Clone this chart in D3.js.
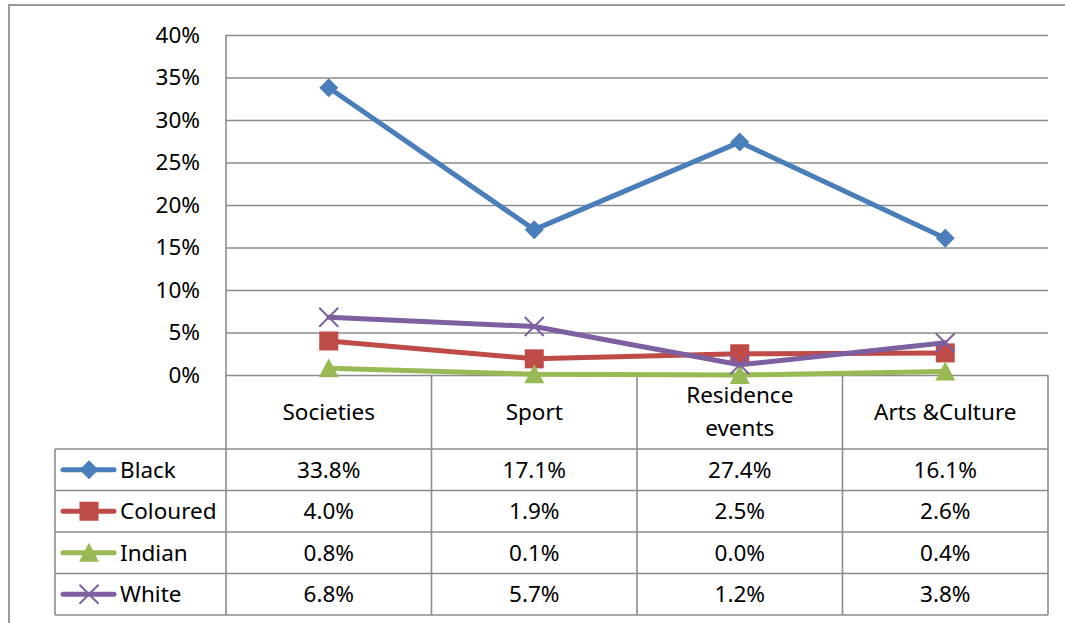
<!DOCTYPE html>
<html>
<head>
<meta charset="utf-8">
<script src="https://cdn.jsdelivr.net/npm/d3@7"></script>
<style>
  html, body { margin: 0; padding: 0; background: #fff; }
  svg { display: block; }
  text { font-family: "Noto Sans", "Open Sans", sans-serif; fill: #000; }
</style>
</head>
<body>
<svg id="chart" width="1065" height="623"></svg>
<script>
// ---- data ----
const categories = ["Societies", "Sport", "Residence events", "Arts &Culture"];
const seriesNames = ["Black", "Coloured", "Indian", "White"];
const black    = [0.338, 0.171, 0.274, 0.161];
const coloured = [0.040, 0.019, 0.025, 0.026];
const indian   = [0.008, 0.001, 0.000, 0.004];
const white    = [0.068, 0.057, 0.012, 0.038];
const yTicks = [0, 0.05, 0.10, 0.15, 0.20, 0.25, 0.30, 0.35, 0.40];

const seriesValues = [black, coloured, indian, white];
const colors = ["#4A7EBB", "#BE4B48", "#98B954", "#7D60A0"];
const markers = ["diamond", "square", "triangle", "cross"];

// ---- layout ----
const svg = d3.select("#chart");
const plotLeft = 226, plotRight = 1048, plotTop = 35, plotBottom = 375;
const headerBottom = 449, rowH = 41.5, legendLeft = 55;
const fontSize = 22.5;
const gridColor = "#8C8C8C";

const x = d3.scaleBand().domain(categories).range([plotLeft, plotRight]).padding(0);
const y = d3.scaleLinear().domain([0, 0.40]).range([plotBottom, plotTop]);

// outer frame
svg.append("rect").attr("x", 0).attr("y", 0).attr("width", 1065).attr("height", 623).attr("fill", "#fff");
svg.append("path")
  .attr("d", `M9,640 V5 H1080`)
  .attr("fill", "none").attr("stroke", "#9A9A9A").attr("stroke-width", 2);

// gridlines + y labels via axis
const yAxis = d3.axisLeft(y).tickValues(yTicks).tickFormat(d3.format(".0%"))
  .tickSize(-(plotRight - plotLeft)).tickPadding(26);
const gy = svg.append("g").attr("transform", `translate(${plotLeft},0)`).call(yAxis);
gy.select(".domain").remove();
gy.selectAll(".tick line").attr("stroke", gridColor).attr("stroke-width", 1.6);
gy.selectAll(".tick text").attr("font-size", fontSize).attr("font-family", '"Noto Sans", sans-serif').attr("fill", "#000");

// table grid
const nRows = seriesNames.length;
const tableBottom = headerBottom + nRows * rowH;
const tg = svg.append("g").attr("stroke", gridColor).attr("stroke-width", 1.6).attr("fill", "none");
tg.append("line").attr("x1", plotLeft).attr("x2", plotLeft).attr("y1", plotTop).attr("y2", tableBottom);
categories.forEach((c) => {
  const xr = x(c) + x.bandwidth();
  tg.append("line").attr("x1", xr).attr("x2", xr).attr("y1", plotBottom).attr("y2", tableBottom);
});
for (let r = 0; r <= nRows; r++) {
  const yy = headerBottom + r * rowH;
  tg.append("line").attr("x1", legendLeft).attr("x2", plotRight).attr("y1", yy).attr("y2", yy);
}
tg.append("line").attr("x1", legendLeft).attr("x2", legendLeft).attr("y1", headerBottom).attr("y2", tableBottom);

// category labels (with wrapping)
const headerMid = (plotBottom + headerBottom) / 2;
categories.forEach(c => {
  const t = svg.append("text").attr("x", x(c) + x.bandwidth() / 2).attr("text-anchor", "middle")
    .attr("font-size", fontSize);
  t.text(c);
  let lines = [c];
  if (t.node().getComputedTextLength() > 175) {
    const words = c.split(" ");
    lines = [words.slice(0, -1).join(" "), words[words.length - 1]];
  }
  t.text(null);
  const lh = 33;
  lines.forEach((ln, i) => {
    t.append("tspan").attr("x", x(c) + x.bandwidth() / 2)
      .attr("y", headerMid + (i - (lines.length - 1) / 2) * lh)
      .attr("dy", "0.35em").text(ln);
  });
});

// marker drawing
function drawMarker(g, type, cx, cy, color) {
  if (type === "diamond") {
    const r = 9.5;
    g.append("path").attr("d", `M${cx},${cy - r}L${cx + r},${cy}L${cx},${cy + r}L${cx - r},${cy}Z`).attr("fill", color);
  } else if (type === "square") {
    const s = 19;
    g.append("rect").attr("x", cx - s / 2).attr("y", cy - s / 2).attr("width", s).attr("height", s).attr("fill", color);
  } else if (type === "triangle") {
    const w = 20, h = 18;
    g.append("path").attr("d", `M${cx},${cy - h / 2 - 1}L${cx + w / 2},${cy + h / 2}L${cx - w / 2},${cy + h / 2}Z`).attr("fill", color);
  } else if (type === "cross") {
    const r = 9.5;
    g.append("path").attr("d", `M${cx - r},${cy - r}L${cx + r},${cy + r}M${cx - r},${cy + r}L${cx + r},${cy - r}`)
      .attr("stroke", color).attr("stroke-width", 2).attr("fill", "none");
  }
}

// series lines + markers
const line = d3.line().x((d, i) => x(categories[i]) + x.bandwidth() / 2).y(d => y(d));
seriesValues.forEach((vals, s) => {
  const g = svg.append("g");
  g.append("path").datum(vals).attr("d", line).attr("fill", "none")
    .attr("stroke", colors[s]).attr("stroke-width", 5).attr("stroke-linejoin", "round").attr("stroke-linecap", "round");
  vals.forEach((v, i) => drawMarker(g, markers[s], x(categories[i]) + x.bandwidth() / 2, y(v), colors[s]));
});

// table values + legend
const fmt = d3.format(".1%");
seriesValues.forEach((vals, s) => {
  const cy = headerBottom + s * rowH + rowH / 2;
  const lg = svg.append("g");
  lg.append("line").attr("x1", 63).attr("x2", 114).attr("y1", cy).attr("y2", cy)
    .attr("stroke", colors[s]).attr("stroke-width", 5).attr("stroke-linecap", "round");
  drawMarker(lg, markers[s], 89, cy, colors[s]);
  svg.append("text").attr("x", 120).attr("y", cy).attr("dy", "0.35em").attr("font-size", fontSize).text(seriesNames[s]);
  vals.forEach((v, i) => {
    svg.append("text").attr("x", x(categories[i]) + x.bandwidth() / 2).attr("y", cy).attr("dy", "0.35em")
      .attr("text-anchor", "middle").attr("font-size", fontSize).text(fmt(v));
  });
});
</script>
</body>
</html>
